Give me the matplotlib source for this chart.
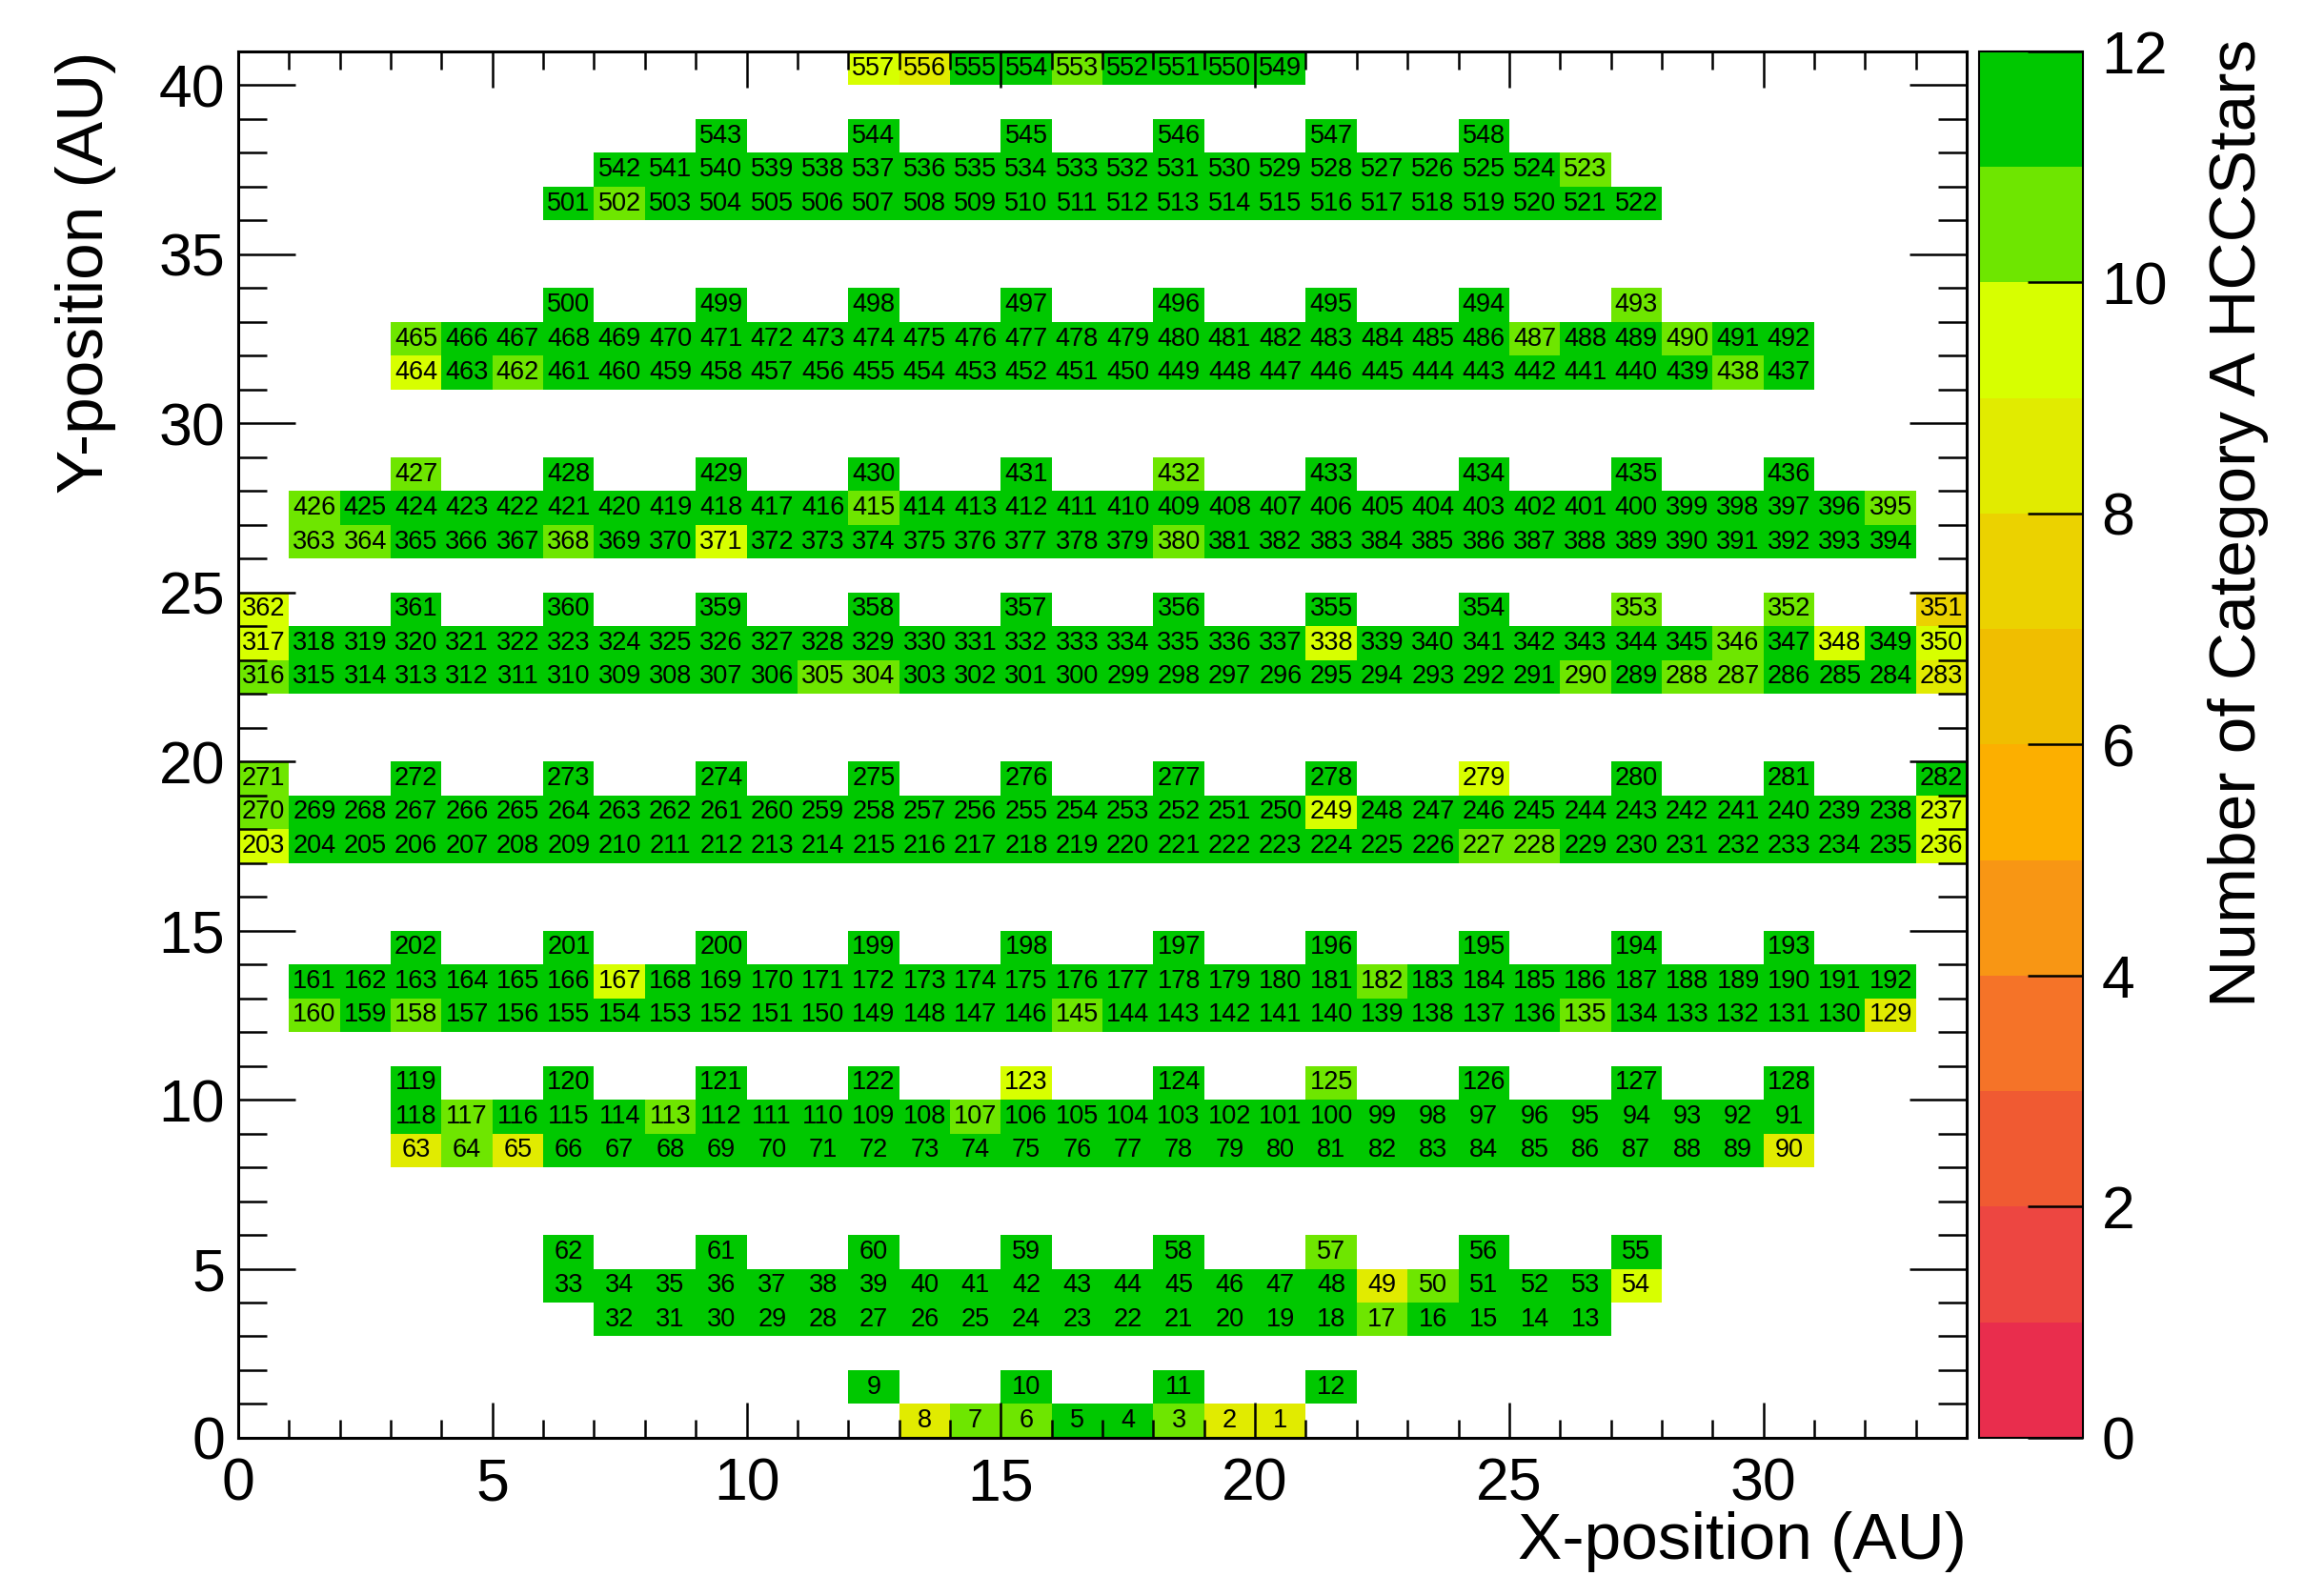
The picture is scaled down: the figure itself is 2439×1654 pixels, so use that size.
import numpy as np
import matplotlib
matplotlib.use("Agg")
import matplotlib.pyplot as plt
from matplotlib.colors import ListedColormap, BoundaryNorm

plt.rcParams['font.family'] = ['Liberation Sans', 'DejaVu Sans']

# module rows: y bin, first/last x bin, x step, first module id, id direction
row_y = [0, 1, 3, 4, 5, 8, 9, 10, 12, 13, 14, 17, 18, 19, 22, 23, 24,
         26, 27, 28, 31, 32, 33, 36, 37, 38, 40]
row_x0 = [13, 12, 7, 6, 6, 3, 3, 3, 1, 1, 3, 0, 0, 0, 0, 0, 0,
          1, 1, 3, 3, 3, 6, 6, 7, 9, 12]
row_x1 = [20, 21, 26, 27, 27, 30, 30, 30, 32, 32, 30, 33, 33, 33, 33, 33, 33,
          32, 32, 30, 30, 30, 27, 27, 26, 24, 20]
row_dx = [1, 3, 1, 1, 3, 1, 1, 3, 1, 1, 3, 1, 1, 3, 1, 1, 3,
          1, 1, 3, 1, 1, 3, 1, 1, 3, 1]
row_first = [8, 9, 32, 33, 62, 63, 118, 119, 160, 161, 202, 203, 270, 271,
             316, 317, 362, 363, 426, 427, 464, 465, 500, 501, 542, 543, 557]
row_dir = [-1, 1, -1, 1, -1, 1, -1, 1, -1, 1, -1, 1, -1, 1,
           -1, 1, -1, 1, -1, 1, -1, 1, -1, 1, -1, 1, -1]

# modules that do not have the full 12 stars
stars_10 = [553, 523, 502, 493, 465, 487, 490, 462, 438, 427, 432, 426, 415,
            395, 363, 364, 368, 380, 353, 352, 346, 316, 305, 304, 290, 288,
            287, 271, 270, 227, 228, 182, 160, 158, 145, 135, 125, 117, 113,
            107, 64, 57, 50, 17, 7, 6, 3]
stars_9 = [557, 464, 371, 362, 317, 338, 348, 350, 279, 249, 237, 203, 236,
           167, 123, 54]
stars_8 = [556, 283, 129, 63, 65, 90, 49, 8, 2, 1]
stars_7 = [351]

band_colors = ['#e92d4d', '#ed4641', '#f05a32', '#f57328', '#f89614',
               '#fcaf00', '#f0be00', '#ebd200', '#e1eb00', '#d7ff00',
               '#6ee600', '#00c800']

# build the histogram
nx, ny = 34, 41
counts = np.full((ny, nx), np.nan)
labels = []
for y, x0, x1, dx, first, d in zip(row_y, row_x0, row_x1, row_dx, row_first, row_dir):
    xs = list(range(x0, x1 + 1, dx))
    for i, x in enumerate(xs):
        mid = first + d * i
        if mid in stars_7:
            c = 7
        elif mid in stars_8:
            c = 8
        elif mid in stars_9:
            c = 9
        elif mid in stars_10:
            c = 10
        else:
            c = 12
        counts[y, x] = c
        labels.append((x, y, mid))

cmap = ListedColormap(band_colors)
norm = BoundaryNorm(np.arange(13), 12, clip=True)

fig = plt.figure(figsize=(24.39, 16.54), dpi=100)
ax = fig.add_axes([0.1025, 0.0877, 0.7438, 0.8797])
cax = fig.add_axes([0.8516, 0.0877, 0.0447, 0.8797])

mesh = ax.pcolormesh(np.arange(nx + 1), np.arange(ny + 1),
                     np.ma.masked_invalid(counts), cmap=cmap, norm=norm,
                     edgecolors='none', antialiased=False, snap=True)

for x, y, mid in labels:
    ax.text(x + 0.5, y + 0.5, str(mid), ha='center', va='center',
            fontsize=19.5, color='black', zorder=4)

ax.set_xlim(0, 34)
ax.set_ylim(0, 41)
ax.set_xticks(np.arange(0, 31, 5))
ax.set_xticks(np.arange(0, 35, 1), minor=True)
ax.set_yticks(np.arange(0, 41, 5))
ax.set_yticks(np.arange(0, 42, 1), minor=True)
ax.tick_params(which='both', direction='in', top=True, right=True, width=1.8)
ax.tick_params(axis='x', which='major', length=27, labelsize=45, pad=14)
ax.tick_params(axis='x', which='minor', length=13.5)
ax.tick_params(axis='y', which='major', length=43, labelsize=45, pad=10)
ax.tick_params(axis='y', which='minor', length=21.5)
for s in ax.spines.values():
    s.set_linewidth(2.2)

fig.text(0.8463, 0.022, 'X-position (AU)', ha='right', va='center', fontsize=50)
fig.text(0.037, 0.9674, 'Y-position (AU)', ha='center', va='top',
         rotation=90, fontsize=50)

cbar = fig.colorbar(mesh, cax=cax, ticks=np.arange(0, 13, 2))
cbar.outline.set_linewidth(1.5)
cax.tick_params(direction='in', length=42, width=1.8, labelsize=45, pad=14)
cax.minorticks_off()
fig.text(0.963, 0.975, 'Number of Category A HCCStars', ha='center', va='top',
         rotation=90, fontsize=50)

fig.savefig('out.png', dpi=100)
